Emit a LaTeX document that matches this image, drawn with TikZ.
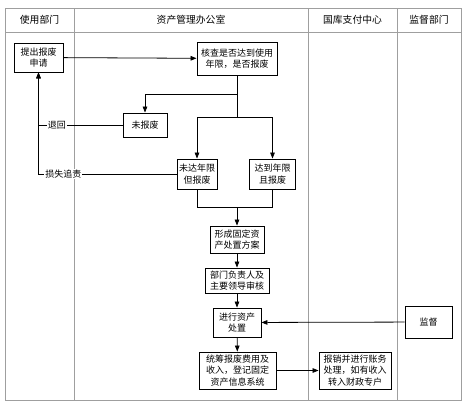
\documentclass[tikz,border=0pt]{standalone}
\usepackage{fontspec}
\newfontfamily\cjk{Noto Sans CJK SC}
\usetikzlibrary{arrows.meta,positioning}

\begin{document}
\begin{tikzpicture}[
  x=1pt, y=-1pt,
  box/.style={rectangle, draw, line width=0.9pt, align=center, inner sep=0pt, font=\cjk\fontsize{9}{11.5}\selectfont},
  head/.style={font=\cjk\fontsize{9.8}{11}\selectfont},
  lane/.style={draw=gray!75, line width=0.7pt},
  arrow/.style={-{Triangle[length=6pt, width=4.6pt]}, line width=0.8pt},
  line/.style={line width=0.8pt},
  label/.style={fill=white, inner sep=1pt, font=\cjk\fontsize{9}{10}\selectfont},
]
\useasboundingbox (0,0) rectangle (462,402);

% === SWIMLANES ===
\draw[lane, line width=1pt] (5,8) rectangle (461,400);
\draw[lane] (5,32) -- (461,32);
\draw[lane] (74,8) -- (74,400);
\draw[lane] (308,8) -- (308,400);
\draw[lane] (397,8) -- (397,400);

\node[head] (hdept) at (39.5,20) {使用部门};
\node[head] (hoffice) at (191,20) {资产管理办公室};
\node[head] (htreasury) at (352.5,20) {国库支付中心};
\node[head] (hsuper) at (429,20) {监督部门};

% === PROCESS BOXES ===
\node[box, minimum width=49pt, minimum height=29pt] (apply) at (38.5,57.5) {提出报废\\申请};
\node[box, minimum width=80pt, minimum height=33pt] (check) at (237,58.5) {核查是否达到使用\\年限，是否报废};
\node[box, minimum width=44pt, minimum height=24pt] (noscrap) at (145,125) {未报废};
\node[box, minimum width=40pt, minimum height=30pt] (notyet) at (197,174) {未达年限\\但报废};
\node[box, minimum width=46pt, minimum height=30pt] (reached) at (272.5,174) {达到年限\\且报废};

\node[box, minimum width=54pt, minimum height=27pt] (plan) at (237,239.5) {形成固定资\\产处置方案};
\node[box, minimum width=64pt, minimum height=25pt] (review) at (237,280.5) {部门负责人及\\主要领导审核};
\node[box, minimum width=48pt, minimum height=29pt] (dispose) at (237,322.5) {进行资产\\处置};
\node[box, minimum width=47pt, minimum height=32pt] (supervise) at (428.5,322) {监督};
\node[box, minimum width=77pt, minimum height=37pt] (register) at (237.5,370.5) {统筹报废费用及\\收入，登记固定\\资产信息系统};
\node[box, minimum width=72pt, minimum height=37pt] (reimburse) at (355,370.5) {报销并进行账务\\处理，如有收入\\转入财政专户};

\coordinate (split1) at (237,94);
\coordinate (split2) at (237,117);
\coordinate (merge) at (237,207);

% === CONNECTORS ===
\draw[arrow] (apply) -- (check);
\draw[line] (check.south) -- (split2);
\draw[arrow] (split1) -| (noscrap.north);
\draw[arrow] (split2) -| (notyet.north);
\draw[arrow] (split2) -| (reached.north);
\draw[arrow] (noscrap.west) -| node[label, pos=0.39] (lback) {退回} (apply.south);
\draw[arrow] (notyet.west) -| node[label, pos=0.41] (lloss) {损失追责} (apply.south);
\draw[line] (notyet.south) |- (merge);
\draw[line] (reached.south) |- (merge);
\draw[arrow] (merge) -- (plan.north);
\draw[arrow] (plan) -- (review);
\draw[arrow] (review) -- (dispose);
\draw[arrow] (dispose) -- (register);
\draw[arrow] (supervise) -- (dispose);
\draw[arrow] (register) -- (reimburse);
\end{tikzpicture}
\end{document}
